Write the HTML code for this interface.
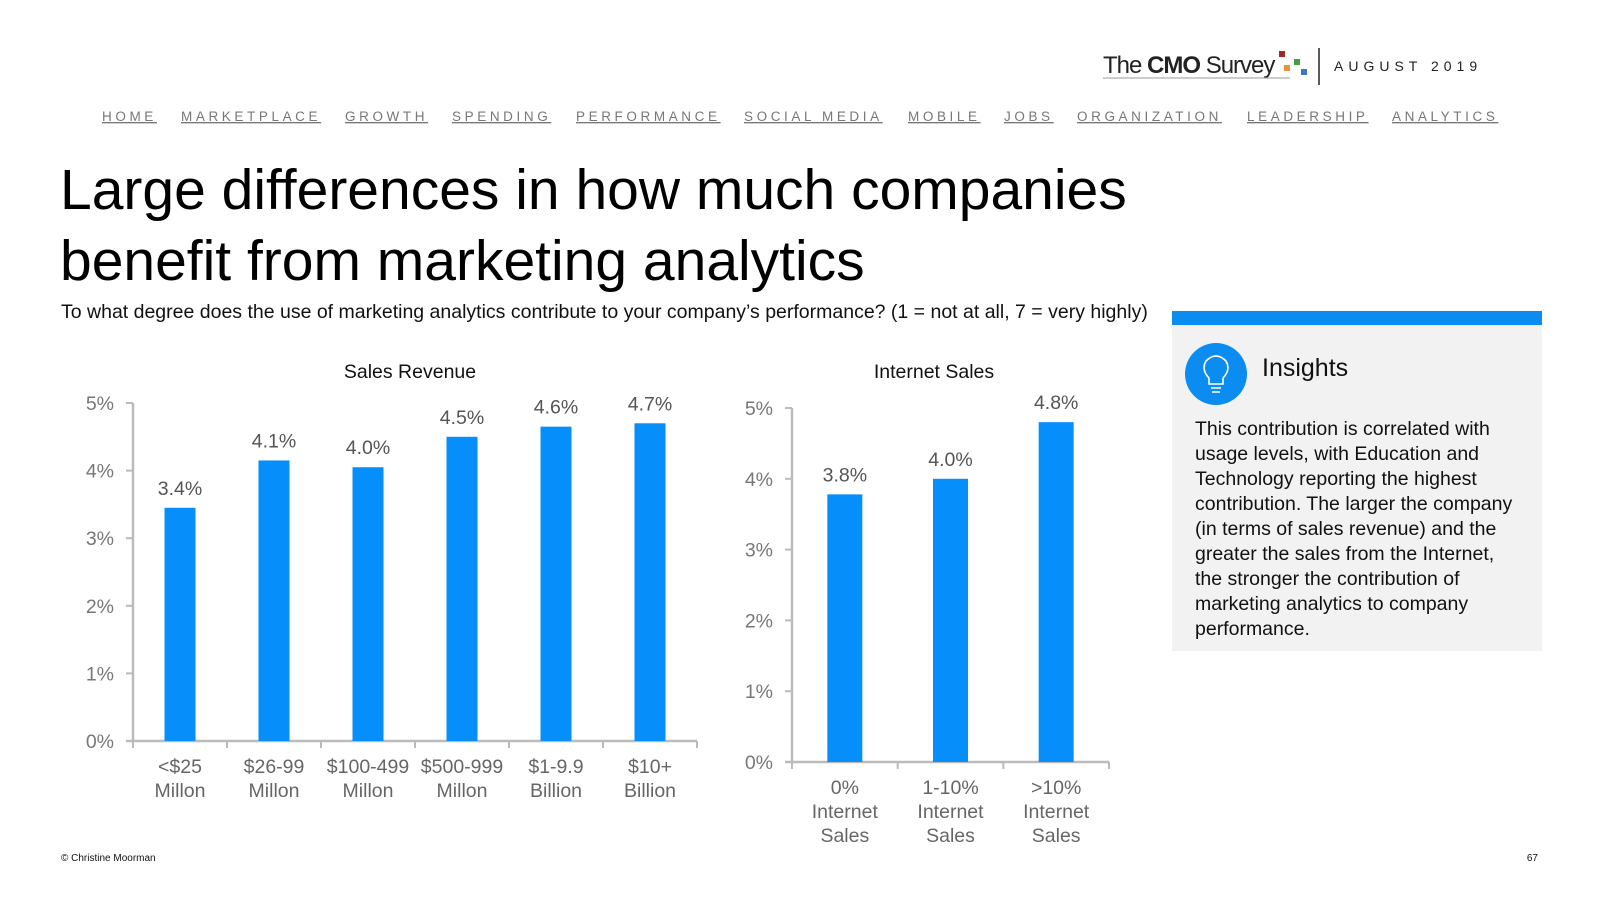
<!DOCTYPE html>
<html><head><meta charset="utf-8"><style>
body{margin:0;background:#fff;}
svg{display:block;font-family:"Liberation Sans",sans-serif;}
</style></head><body>
<svg id="page" width="1600" height="900" viewBox="0 0 1600 900">
<g>
<text x="1103" y="73" font-size="24" fill="#222" letter-spacing="-1">The <tspan font-weight="bold">CMO</tspan> Survey</text>
<line x1="1103" y1="78" x2="1290" y2="78" stroke="#999" stroke-width="1"/>
<rect x="1279" y="51" width="6" height="6" fill="#a0282a"/>
<rect x="1284" y="65" width="6" height="6" fill="#e8923a"/>
<rect x="1294" y="59" width="6" height="6" fill="#4a9a4a"/>
<rect x="1301" y="69" width="6" height="6" fill="#3a78c0"/>
</g>
<line x1="1319" y1="48" x2="1319" y2="85" stroke="#222" stroke-width="1.5"/>
<text x="1334" y="71" font-size="14" fill="#222" letter-spacing="5">AUGUST 2019</text>
<g font-size="13.5" fill="#777" letter-spacing="3.6" text-decoration="underline">
<text x="102" y="121">HOME</text>
<text x="181" y="121">MARKETPLACE</text>
<text x="345" y="121">GROWTH</text>
<text x="452" y="121">SPENDING</text>
<text x="576" y="121">PERFORMANCE</text>
<text x="744" y="121">SOCIAL MEDIA</text>
<text x="908" y="121">MOBILE</text>
<text x="1004" y="121">JOBS</text>
<text x="1077" y="121">ORGANIZATION</text>
<text x="1247" y="121">LEADERSHIP</text>
<text x="1392" y="121">ANALYTICS</text>
</g>
<text x="60" y="209" font-size="57" fill="#000">Large differences in how much companies</text>
<text x="60" y="280" font-size="57" fill="#000">benefit from marketing analytics</text>
<text x="61" y="318" font-size="19.5" fill="#111">To what degree does the use of marketing analytics contribute to your company’s performance? (1 = not at all, 7 = very highly)</text>

<g>
<rect x="1172" y="325" width="370" height="326" fill="#f2f2f2"/>
<rect x="1172" y="311" width="370" height="14" fill="#0a8cf0"/>
<circle cx="1216" cy="374" r="31" fill="#0a8cf0"/>
<path d="M1209 378 q-8 -8 -3 -17 q10 -10 20 0 q5 9 -3 17 v6 h-14 z M1211 388 h10 M1212 392 h8" stroke="#fff" stroke-width="1.6" fill="none"/>
<text x="1262" y="376" font-size="25" fill="#111">Insights</text>
<g font-size="19.5" fill="#111">
<text x="1195" y="435">This contribution is correlated with</text>
<text x="1195" y="460">usage levels, with Education and</text>
<text x="1195" y="485">Technology reporting the highest</text>
<text x="1195" y="510">contribution. The larger the company</text>
<text x="1195" y="535">(in terms of sales revenue) and the</text>
<text x="1195" y="560">greater the sales from the Internet,</text>
<text x="1195" y="585">the stronger the contribution of</text>
<text x="1195" y="610">marketing analytics to company</text>
<text x="1195" y="635">performance.</text>
</g>
</g>

<g id="chart1"></g>
<g id="chart2"></g>

<text x="61" y="861" font-size="10" fill="#111">© Christine Moorman</text>
<text x="1538" y="861" font-size="10" fill="#111" text-anchor="end">67</text>
</svg>
<script>
const revCategories = [["<$25","Millon"],["$26-99","Millon"],["$100-499","Millon"],["$500-999","Millon"],["$1-9.9","Billion"],["$10+","Billion"]];
const revValues = [3.45, 4.15, 4.05, 4.5, 4.65, 4.7];
const revLabels = ["3.4%","4.1%","4.0%","4.5%","4.6%","4.7%"];
const netCategories = [["0%","Internet","Sales"],["1-10%","Internet","Sales"],[">10%","Internet","Sales"]];
const netValues = [3.78, 4.0, 4.8];
const netLabels = ["3.8%","4.0%","4.8%"];
const yTicks = [0,1,2,3,4,5];

const NS = "http://www.w3.org/2000/svg";
function mk(tag, attrs, parent){const e=document.createElementNS(NS,tag);for(const k in attrs)e.setAttribute(k,attrs[k]);parent.appendChild(e);return e;}

function drawChart(g, cfg, cats, vals, labels, title, prefix){
  const yScale = v => cfg.y0 - v*(cfg.y0-cfg.y5)/5;
  const n = cats.length, step = (cfg.x1-cfg.x0)/n;
  const xCenter = i => cfg.x0 + step*(i+0.5);
  const t = mk("text",{x:cfg.titleX,y:cfg.titleY,"font-size":19.5,fill:"#111","text-anchor":"middle"},g);
  t.textContent = title;
  
  
  yTicks.forEach(v=>{
    const y=yScale(v);
    const tl = mk("line",{x1:cfg.x0-7,y1:y,x2:cfg.x0,y2:y,stroke:"#bbb","stroke-width":2},g);
    
    
    const tx = mk("text",{x:cfg.x0-19,y:y+7,"font-size":19.5,fill:"#777","text-anchor":"end"},g);
    tx.textContent = v+"%";
    
    
  });
  const ya = mk("line",{x1:cfg.x0,y1:cfg.y5,x2:cfg.x0,y2:cfg.y0+1,stroke:"#bbb","stroke-width":2.5},g);
  
  
  const xa = mk("line",{x1:cfg.x0-7,y1:cfg.y0,x2:cfg.x1,y2:cfg.y0,stroke:"#bbb","stroke-width":2.5},g);
  
  
  for(let i=0;i<=n;i++){
    const xt = mk("line",{x1:cfg.x0+step*i,y1:cfg.y0,x2:cfg.x0+step*i,y2:cfg.y0+7,stroke:"#bbb","stroke-width":2},g);
    
    
  }
  vals.forEach((v,i)=>{
    const cx=xCenter(i), top=yScale(v);
    const b = mk("rect",{x:cx-cfg.bw/2,y:top,width:cfg.bw,height:cfg.y0-top,fill:"#068ffa"},g);
    
    
    const lt = mk("text",{x:cx,y:top-13,"font-size":19.5,fill:"#555","text-anchor":"middle"},g);
    lt.textContent = labels[i];
    
    
    cats[i].forEach((line,j)=>{
      const c = mk("text",{x:cx,y:cfg.catY+j*24,"font-size":19.5,fill:"#666","text-anchor":"middle"},g);
      c.textContent = line;
      
      
    });
  });
}
drawChart(document.getElementById("chart1"),
  {x0:133,x1:697,y0:741,y5:403,bw:31,titleX:410,titleY:378,catY:773},
  revCategories, revValues, revLabels, "Sales Revenue", "revenue");
drawChart(document.getElementById("chart2"),
  {x0:792,x1:1109,y0:762,y5:408,bw:35,titleX:934,titleY:378,catY:794},
  netCategories, netValues, netLabels, "Internet Sales", "internet");
</script>
</body></html>
